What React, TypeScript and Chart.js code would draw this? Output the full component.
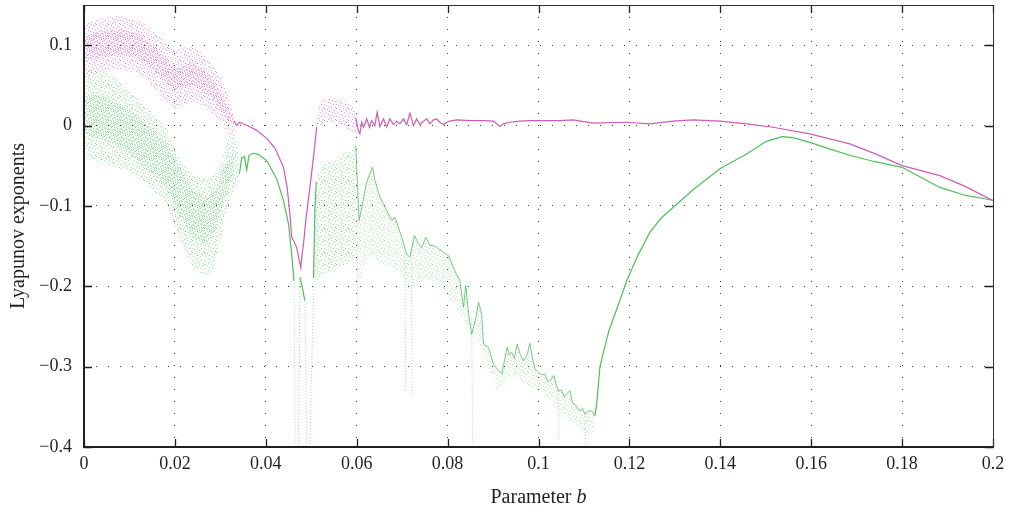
import React, { useEffect, useRef } from 'react';
import { Chart, registerables } from 'chart.js';

Chart.register(...registerables);

// Axis ticks
const xTickValues = [0, 0.02, 0.04, 0.06, 0.08, 0.1, 0.12, 0.14, 0.16, 0.18, 0.2];
const xTickLabels = ['0', '0.02', '0.04', '0.06', '0.08', '0.1', '0.12', '0.14', '0.16', '0.18', '0.2'];
const yTickValues = [-0.4, -0.3, -0.2, -0.1, 0, 0.1];
const yTickLabels = ['\u22120.4', '\u22120.3', '\u22120.2', '\u22120.1', '0', '0.1'];

// Largest exponent (magenta): regular parts as a line, null = break
const magentaLineB = [
  0.0330, 0.0336, 0.0342, 0.0348, 0.0360, 0.0380, 0.0403, 0.0420, 0.0439, 0.0447, 0.0453, 0.0457, 0.0462, 0.0468,
  0.0477, 0.0480, 0.0483, 0.0488, 0.0497, 0.0505, 0.0512,
  0.0556,
  0.0598, 0.0603, 0.0607, 0.0611, 0.0615, 0.0622, 0.0628, 0.0633, 0.0640, 0.0645, 0.0651, 0.0659, 0.0666, 0.0673,
  0.0681, 0.0688, 0.0695, 0.0703, 0.0710, 0.0717, 0.0725, 0.0732, 0.0739, 0.0747, 0.0754, 0.0761, 0.0769, 0.0776,
  0.0783, 0.0791, 0.0798, 0.0805, 0.0820, 0.0849, 0.0879, 0.0901, 0.0915, 0.0923, 0.0937, 0.0959, 0.0981, 0.1047,
  0.1076, 0.1120, 0.1194, 0.1245, 0.1296, 0.1340, 0.1400, 0.1458, 0.1516, 0.1597, 0.1685, 0.1740, 0.1800, 0.1883,
  0.1940, 0.2000,
];
const magentaLineV = [
  0.006, 0.0, 0.004, 0.0025, 0.0, -0.006, -0.0166, -0.028, -0.052, -0.077, -0.11, -0.139, -0.144, -0.152,
  -0.177, -0.16, -0.147, -0.118, -0.077, -0.039, -0.002,
  null,
  0.01, -0.005, -0.0104, 0.0041, -0.0021, 0.0083, -0.0021, 0.0062, 0.0, 0.0166, -0.0012, 0.0083, -0.0021, 0.0083,
  0.0012, 0.0054, 0.0021, 0.0083, 0.0012, 0.0153, 0.0, 0.0083, 0.0012, 0.0054, 0.0083, 0.0021, 0.0071, 0.0083,
  0.0041, 0.0012, 0.0041, 0.0054, 0.0071, 0.0062, 0.0062, 0.0054, -0.0012, 0.0021, 0.0041, 0.0054, 0.0062, 0.0062,
  0.0071, 0.0029, 0.0041, 0.0021, 0.0054, 0.0071, 0.0054, 0.0021, -0.0021, -0.0104, -0.0228, -0.035, -0.0498, -0.0623,
  -0.076, -0.0934,
];

// Magenta chaotic bands: outer spread and denser core of the scattered estimates
const magentaBandAB = [0, 0.002, 0.004, 0.006, 0.008, 0.010, 0.012, 0.014, 0.016, 0.018, 0.020, 0.022, 0.024, 0.026, 0.028, 0.030, 0.031, 0.032, 0.033];
const magentaBandALow = [0.062, 0.065, 0.068, 0.07, 0.07, 0.068, 0.064, 0.056, 0.042, 0.03, 0.02, 0.026, 0.03, 0.026, 0.016, 0.006, -0.003, -0.01, -0.012];
const magentaBandAHigh = [0.127, 0.13, 0.134, 0.136, 0.137, 0.134, 0.13, 0.124, 0.114, 0.102, 0.092, 0.097, 0.097, 0.09, 0.077, 0.062, 0.047, 0.032, 0.014];
const magentaCoreAB = [0, 0.004, 0.008, 0.012, 0.016, 0.020, 0.024, 0.028, 0.031, 0.033];
const magentaCoreALow = [0.08, 0.085, 0.088, 0.085, 0.065, 0.045, 0.05, 0.035, 0.012, 0.0];
const magentaCoreAHigh = [0.11, 0.118, 0.12, 0.115, 0.095, 0.07, 0.08, 0.06, 0.03, 0.008];
const magentaBandBB = [0.0512, 0.052, 0.053, 0.054, 0.055, 0.056, 0.057, 0.058, 0.059, 0.0600];
const magentaBandBLow = [-0.002, 0.0, 0.002, 0.004, 0.004, 0.002, 0.0, -0.005, -0.008, -0.012];
const magentaBandBHigh = [0.01, 0.03, 0.034, 0.035, 0.034, 0.033, 0.032, 0.03, 0.025, 0.012];

// Second exponent (green): regular parts as a line
const greenLineB = [
  0.0342, 0.0347, 0.0353, 0.0358, 0.0363, 0.0371, 0.0384, 0.0402, 0.0424, 0.0439, 0.0450, 0.0457, 0.0462,
  0.0468,
  0.0475, 0.0480, 0.0486,
  0.0495,
  0.0505, 0.0508, 0.0511,
  0.0800,
  0.1124, 0.1128, 0.1135, 0.1142, 0.1155, 0.1173, 0.1195, 0.1220, 0.1245, 0.1270, 0.1296, 0.1340, 0.1400, 0.1459,
  0.1500, 0.1536, 0.1560, 0.1597, 0.1640, 0.1685, 0.1740, 0.1800, 0.1840, 0.1883, 0.1940, 0.2000,
];
const greenLineV = [
  -0.060, -0.0402, -0.0386, -0.0552, -0.0374, -0.0345, -0.0361, -0.0436, -0.0664, -0.0934, -0.1224, -0.160, -0.193,
  null,
  -0.189, -0.200, -0.218,
  null,
  -0.19, -0.106, -0.07,
  null,
  -0.361, -0.347, -0.301, -0.284, -0.255, -0.227, -0.192, -0.16, -0.133, -0.115, -0.102, -0.08, -0.0535, -0.035,
  -0.02, -0.0137, -0.015, -0.021, -0.029, -0.037, -0.045, -0.052, -0.064, -0.077, -0.087, -0.093,
];

// Green faint drops towards the bottom of the range
const greenDropB = [
  0.0462, 0.0465, 0.0467, 0.0472, 0.0475, 0.0478, 0.0486, 0.0490, 0.0493, 0.0497, 0.0503, 0.0506, 0.0508,
  0.0601, 0.0603, 0.0605, 0.0706, 0.0708, 0.0713, 0.0720, 0.0722, 0.0726, 0.0853, 0.0855, 0.0860,
  0.1043, 0.1045, 0.1050, 0.1102, 0.1104,
];
const greenDropV = [
  -0.193, -0.4, null, -0.4, -0.189, null, -0.218, -0.4, null, -0.4, -0.25, -0.2, null,
  -0.118, -0.245, null, -0.16, -0.33, null, -0.165, -0.335, null, -0.24, -0.396, null,
  -0.33, -0.392, null, -0.359, -0.4,
];

// Green windowed region: upper edge of the dense comb and lower edge of its scatter
const greenCombB = [
  0.0598, 0.0605, 0.0612, 0.0620, 0.0626, 0.0635, 0.0640, 0.0651, 0.0659, 0.0666, 0.0677, 0.0684, 0.0692, 0.0699,
  0.0710, 0.0717, 0.0727, 0.0736, 0.0743, 0.0752, 0.0761, 0.0772, 0.0787, 0.0802, 0.0816, 0.0827, 0.0835, 0.0840,
  0.0846, 0.0853, 0.0862, 0.0868, 0.0875, 0.0879, 0.0890, 0.0901, 0.0912, 0.0919, 0.0926, 0.0931, 0.0936, 0.0941,
  0.0947, 0.0953, 0.0960, 0.0967, 0.0975, 0.0981, 0.0987, 0.0992, 0.1000, 0.1007, 0.1014, 0.1020, 0.1025, 0.1034,
  0.1040, 0.1044, 0.1051, 0.1057, 0.1062, 0.1069, 0.1075, 0.1080, 0.1091, 0.1097, 0.1102, 0.1110, 0.1117, 0.1124,
];
const greenCombV = [
  -0.025, -0.118, -0.10, -0.075, -0.064, -0.052, -0.068, -0.089, -0.0975, -0.106, -0.118, -0.114, -0.127, -0.139,
  -0.16, -0.164, -0.137, -0.147, -0.152, -0.139, -0.149, -0.150, -0.156, -0.162, -0.181, -0.193, -0.226, -0.199,
  -0.234, -0.26, -0.24, -0.220, -0.234, -0.272, -0.276, -0.297, -0.305, -0.309, -0.29, -0.276, -0.285, -0.282,
  -0.29, -0.272, -0.285, -0.293, -0.285, -0.271, -0.29, -0.303, -0.307, -0.31, -0.309, -0.318, -0.318, -0.311,
  -0.325, -0.33, -0.329, -0.338, -0.334, -0.33, -0.345, -0.347, -0.355, -0.352, -0.359, -0.355, -0.355, -0.361,
];
const greenCombLowB = [0.0605, 0.0626, 0.065, 0.067, 0.069, 0.071, 0.073, 0.075, 0.078, 0.080, 0.082, 0.0846, 0.087, 0.089, 0.091, 0.094, 0.097, 0.100, 0.102, 0.105, 0.108, 0.110, 0.112, 0.1124];
const greenCombLowV = [-0.2, -0.16, -0.17, -0.175, -0.18, -0.2, -0.2, -0.19, -0.2, -0.21, -0.23, -0.25, -0.27, -0.3, -0.33, -0.31, -0.32, -0.33, -0.34, -0.36, -0.37, -0.38, -0.385, -0.37];

// Green chaotic bands: outer spread and denser core
const greenBandAB = [0, 0.003, 0.006, 0.009, 0.012, 0.015, 0.018, 0.020, 0.022, 0.024, 0.026, 0.028, 0.029, 0.030, 0.031, 0.032, 0.033, 0.034];
const greenBandALow = [-0.04, -0.045, -0.05, -0.055, -0.065, -0.08, -0.095, -0.125, -0.155, -0.175, -0.185, -0.185, -0.17, -0.14, -0.115, -0.095, -0.08, -0.068];
const greenBandAHigh = [0.072, 0.07, 0.063, 0.048, 0.033, 0.015, -0.002, -0.03, -0.05, -0.06, -0.065, -0.065, -0.055, -0.05, -0.03, -0.012, -0.012, -0.032];
const greenCoreAB = [0, 0.005, 0.010, 0.015, 0.018, 0.021, 0.024, 0.027, 0.029, 0.031, 0.033];
const greenCoreALow = [-0.01, -0.02, -0.035, -0.06, -0.075, -0.11, -0.14, -0.15, -0.13, -0.09, -0.06];
const greenCoreAHigh = [0.04, 0.035, 0.02, -0.005, -0.02, -0.05, -0.08, -0.09, -0.08, -0.05, -0.03];
const greenBandBB = [0.0506, 0.0515, 0.053, 0.055, 0.057, 0.0585, 0.0598];
const greenBandBLow = [-0.2, -0.19, -0.185, -0.18, -0.175, -0.17, -0.16];
const greenBandBHigh = [-0.12, -0.06, -0.045, -0.045, -0.035, -0.03, -0.025];

const MAGENTA = '#cc5cb8';
const GREEN = '#4fbf5a';
const MAGENTA_RGB = '204,92,184';
const GREEN_RGB = '79,191,90';

const FONT = '"Liberation Serif", "DejaVu Serif", serif';

// Pixel layouts of the stipple tiles (12 x 12): [x, y, alpha]
const TILE_SPARSE: number[][] = [
  [0, 0, 0.8], [7, 0, 0.5], [3, 1, 0.6], [10, 2, 0.7], [5, 3, 0.9], [1, 4, 0.5], [8, 4, 0.6],
  [11, 5, 0.4], [4, 6, 0.7], [6, 7, 0.5], [0, 8, 0.6], [9, 8, 0.8], [2, 9, 0.4], [7, 10, 0.6],
  [4, 11, 0.5], [11, 11, 0.7], [5, 9, 0.3], [9, 1, 0.4],
];
const TILE_DENSE: number[][] = [
  [2, 0, 0.7], [10, 0, 0.5], [5, 1, 0.6], [0, 2, 0.5], [7, 2, 0.8], [3, 3, 0.4], [9, 3, 0.6],
  [1, 5, 0.7], [6, 5, 0.5], [10, 6, 0.6], [3, 7, 0.8], [8, 7, 0.4], [1, 9, 0.6], [6, 9, 0.7],
  [11, 9, 0.5], [4, 10, 0.4], [9, 11, 0.7], [0, 11, 0.5], [7, 4, 0.3], [2, 6, 0.3],
];

function stipple(rgb: string, tile: number[][], base: number, strength: number): CanvasPattern | string {
  const c = document.createElement('canvas');
  c.width = 12;
  c.height = 12;
  const g = c.getContext('2d');
  if (!g) return `rgba(${rgb},${base})`;
  g.fillStyle = `rgba(${rgb},${base})`;
  g.fillRect(0, 0, 12, 12);
  for (const [x, y, a] of tile) {
    g.fillStyle = `rgba(${rgb},${Math.min(1, a * strength)})`;
    g.fillRect(x, y, 1, 1);
  }
  return g.createPattern(c, 'repeat') || `rgba(${rgb},${base})`;
}

const pts = (bs: number[], vs: (number | null)[]) => bs.map((b, i) => ({ x: b, y: vs[i] }));

const framePlugin = {
  id: 'frameAndTicks',
  afterDatasetsDraw(chart: any) {
    const { ctx, chartArea, scales } = chart;
    const { left, right, top, bottom } = chartArea;
    ctx.save();
    ctx.strokeStyle = '#231f20';
    ctx.lineWidth = 1.3;
    ctx.beginPath();
    for (const v of xTickValues) {
      const px = Math.round(scales.x.getPixelForValue(v)) + 0.5;
      ctx.moveTo(px, bottom);
      ctx.lineTo(px, bottom - 8);
      ctx.moveTo(px, top);
      ctx.lineTo(px, top + 8);
    }
    for (const v of yTickValues) {
      const py = Math.round(scales.y.getPixelForValue(v)) + 0.5;
      ctx.moveTo(left, py);
      ctx.lineTo(left + 8, py);
      ctx.moveTo(right, py);
      ctx.lineTo(right - 8, py);
    }
    ctx.stroke();
    ctx.lineWidth = 1;
    ctx.strokeStyle = '#333';
    ctx.beginPath();
    ctx.moveTo(left, top + 0.5);
    ctx.lineTo(right + 0.5, top + 0.5);
    ctx.lineTo(right + 0.5, bottom);
    ctx.stroke();
    ctx.lineWidth = 2;
    ctx.strokeStyle = '#231f20';
    ctx.beginPath();
    ctx.moveTo(left, top);
    ctx.lineTo(left, bottom);
    ctx.lineTo(right + 1, bottom);
    ctx.stroke();
    ctx.restore();
  },
};

const titlePlugin = {
  id: 'axisTitles',
  afterDraw(chart: any) {
    const { ctx, chartArea } = chart;
    const { left, right, top, bottom } = chartArea;
    ctx.save();
    ctx.fillStyle = '#231f20';
    ctx.font = `20px ${FONT}`;
    ctx.save();
    ctx.translate(19, (top + bottom) / 2);
    ctx.rotate(-Math.PI / 2);
    ctx.textAlign = 'center';
    ctx.textBaseline = 'middle';
    ctx.fillText('Lyapunov exponents', 0, 0);
    ctx.restore();

    const normal = 'Parameter ';
    const italic = 'b';
    ctx.font = `20px ${FONT}`;
    const w1 = ctx.measureText(normal).width;
    ctx.font = `italic 20px ${FONT}`;
    const w2 = ctx.measureText(italic).width;
    const x0 = (left + right) / 2 - (w1 + w2) / 2;
    const y0 = 503;
    ctx.textAlign = 'left';
    ctx.textBaseline = 'alphabetic';
    ctx.font = `20px ${FONT}`;
    ctx.fillText(normal, x0, y0);
    ctx.font = `italic 20px ${FONT}`;
    ctx.fillText(italic, x0 + w1, y0);
    ctx.restore();
  },
};

export default function App() {
  const canvasRef = useRef<HTMLCanvasElement | null>(null);

  useEffect(() => {
    const canvas = canvasRef.current;
    if (!canvas) return;

    const bandM = stipple(MAGENTA_RGB, TILE_SPARSE, 0.04, 0.9);
    const coreM = stipple(MAGENTA_RGB, TILE_DENSE, 0.05, 1);
    const bandG = stipple(GREEN_RGB, TILE_SPARSE, 0.03, 0.8);
    const coreG = stipple(GREEN_RGB, TILE_DENSE, 0.04, 0.9);
    const bandComb = stipple(GREEN_RGB, TILE_SPARSE, 0.02, 0.55);

    const clear = 'rgba(0,0,0,0)';
    const band = (data: any[], fill: any, bg: any) => ({
      data,
      borderWidth: 0,
      pointRadius: 0,
      fill,
      backgroundColor: bg,
      borderColor: clear,
    });

    const chart = new Chart(canvas, {
      type: 'line',
      data: {
        datasets: [
          { data: pts(magentaLineB, magentaLineV), borderColor: MAGENTA, borderWidth: 1.2, pointRadius: 0, fill: false },
          { data: pts(greenLineB, greenLineV), borderColor: GREEN, borderWidth: 1.2, pointRadius: 0, fill: false },
          {
            data: pts(greenDropB, greenDropV),
            borderColor: 'rgba(79,191,90,0.55)',
            borderWidth: 1,
            borderDash: [1, 2],
            pointRadius: 0,
            fill: false,
          },
          {
            data: pts(greenCombB, greenCombV),
            borderColor: 'rgba(60,180,75,0.7)',
            borderWidth: 1,
            pointRadius: 0,
            fill: '+1',
            backgroundColor: bandComb,
          },
          band(pts(greenCombLowB, greenCombLowV), false, clear),
          band(pts(magentaCoreAB, magentaCoreAHigh), '+1', coreM),
          band(pts(magentaCoreAB, magentaCoreALow), false, clear),
          band(pts(magentaBandAB, magentaBandAHigh), '+1', bandM),
          band(pts(magentaBandAB, magentaBandALow), false, clear),
          band(pts(magentaBandBB, magentaBandBHigh), '+1', bandM),
          band(pts(magentaBandBB, magentaBandBLow), false, clear),
          band(pts(greenCoreAB, greenCoreAHigh), '+1', coreG),
          band(pts(greenCoreAB, greenCoreALow), false, clear),
          band(pts(greenBandAB, greenBandAHigh), '+1', bandG),
          band(pts(greenBandAB, greenBandALow), false, clear),
          band(pts(greenBandBB, greenBandBHigh), '+1', bandG),
          band(pts(greenBandBB, greenBandBLow), false, clear),
        ],
      },
      options: {
        responsive: false,
        animation: false,
        events: [],
        spanGaps: false,
        elements: { line: { tension: 0 } },
        layout: { padding: { left: 0, top: 5, right: 17, bottom: 0 } },
        plugins: { legend: { display: false }, tooltip: { enabled: false } },
        scales: {
          x: {
            type: 'linear',
            min: 0,
            max: 0.2,
            afterBuildTicks: (s: any) => {
              s.ticks = xTickValues.map((v) => ({ value: v }));
            },
            afterFit: (s: any) => {
              s.height = 66;
              s.paddingLeft = 0;
              s.paddingRight = 0;
            },
            ticks: {
              autoSkip: false,
              maxRotation: 0,
              padding: 6,
              color: '#231f20',
              font: { family: FONT, size: 18 },
              callback: (_v: any, i: number) => xTickLabels[i],
            },
            grid: { color: '#3a3a3a', lineWidth: 1, drawTicks: false },
            border: { display: false, dash: [1, 11] },
          },
          y: {
            type: 'linear',
            min: -0.4,
            max: 0.15,
            afterBuildTicks: (s: any) => {
              s.ticks = yTickValues.map((v) => ({ value: v }));
            },
            afterFit: (s: any) => {
              s.width = 84;
              s.paddingTop = 0;
              s.paddingBottom = 0;
            },
            ticks: {
              autoSkip: false,
              padding: 12,
              color: '#231f20',
              font: { family: FONT, size: 18 },
              callback: (_v: any, i: number) => yTickLabels[i],
            },
            grid: { color: '#3a3a3a', lineWidth: 1, drawTicks: false },
            border: { display: false, dash: [1, 11] },
          },
        },
      },
      plugins: [framePlugin, titlePlugin],
    } as any);

    return () => chart.destroy();
  }, []);

  return (
    <div style={{ position: 'absolute', left: 0, top: 0, width: 1010, height: 513, background: '#fff' }}>
      <canvas ref={canvasRef} width={1010} height={513} style={{ display: 'block' }} />
    </div>
  );
}
